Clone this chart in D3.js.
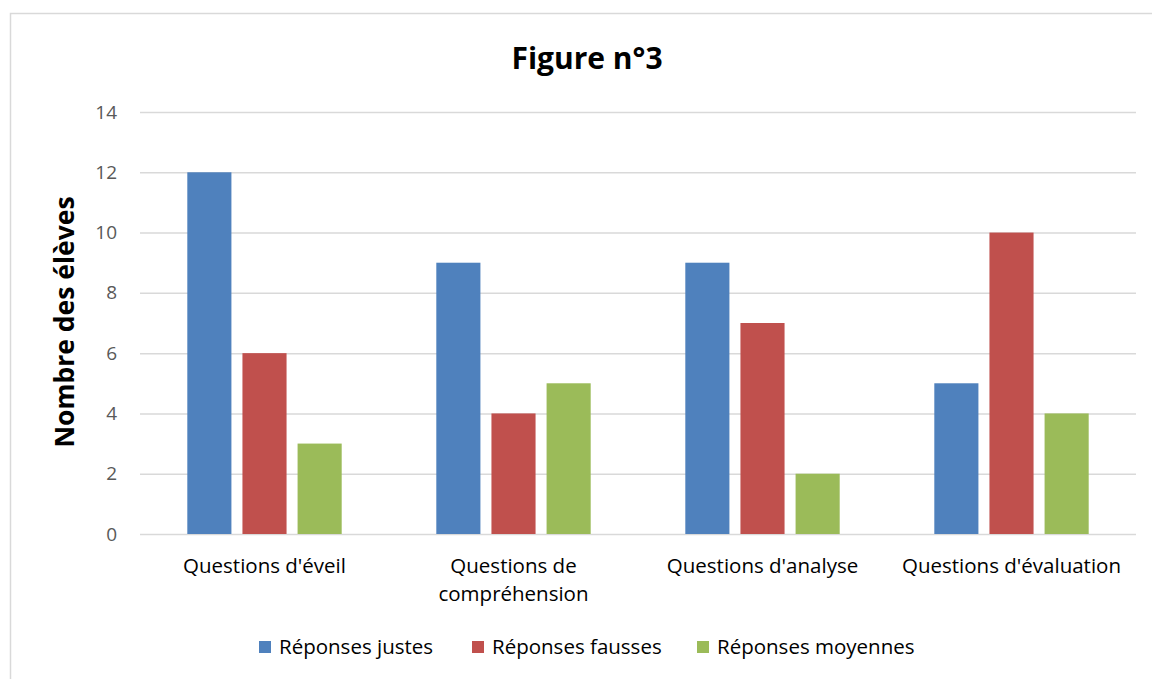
<!DOCTYPE html>
<html>
<head>
<meta charset="utf-8">
<script src="https://cdn.jsdelivr.net/npm/d3@7"></script>
<style>
  body { margin: 0; background: #fff; }
  text { font-family: "Open Sans", sans-serif; }
</style>
</head>
<body>
<svg id="chart" width="1152" height="679"></svg>
<script>
// categories, one label per group (lines split for wrapping)
const categories = ["Questions d'éveil", "Questions de compréhension", "Questions d'analyse", "Questions d'évaluation"];
const categoryLines = [["Questions d'éveil"], ["Questions de", "compréhension"], ["Questions d'analyse"], ["Questions d'évaluation"]];
const seriesNames = ["Réponses justes", "Réponses fausses", "Réponses moyennes"];
const justes = [12, 9, 9, 5];
const fausses = [6, 4, 7, 10];
const moyennes = [3, 5, 2, 4];
const yTicks = [0, 2, 4, 6, 8, 10, 12, 14];
const colors = ["#4f81bd", "#c0504d", "#9bbb59"];

const svg = d3.select("#chart");

let canvas = {"width": 1152, "height": 679,
              "plotLeft": 140, "plotRight": 1136,
              "plotTop": 112, "plotBottom": 534};

// chart frame (cut off on the right and bottom like the screenshot)
svg.append("rect")
  .attr("x", 10.5).attr("y", 13.5)
  .attr("width", 1160).attr("height", 700)
  .attr("fill", "none")
  .attr("stroke", "#d9d9d9")
  .attr("stroke-width", 1.5);

let xScale = d3.scaleBand()
  .domain(categories)
  .range([canvas.plotLeft, canvas.plotRight])
  .paddingInner(0.38)
  .paddingOuter(0.19);

let xSub = d3.scaleBand()
  .domain(seriesNames)
  .range([0, xScale.bandwidth()])
  .paddingInner(0.2);

let yScale = d3.scaleLinear()
  .domain([0, 14])
  .range([canvas.plotBottom, canvas.plotTop]);

// gridlines
let yAxis = d3.axisLeft(yScale).tickValues(yTicks).tickSize(-(canvas.plotRight - canvas.plotLeft)).tickPadding(23);
let gy = svg.append("g")
  .attr("transform", `translate(${canvas.plotLeft}, 0)`)
  .call(yAxis);
gy.select(".domain").remove();
gy.selectAll(".tick line").attr("stroke", "#d9d9d9").attr("stroke-width", 1.5);
gy.selectAll(".tick text").attr("fill", "#595959").attr("font-size", 19);

// table built from the series arrays
let table = categories.map((c, i) => ({
  category: c,
  values: [justes[i], fausses[i], moyennes[i]].map((v, j) => ({series: seriesNames[j], value: v, idx: j}))
}));

let groups = svg.selectAll(".group")
  .data(table)
  .join("g")
  .attr("class", "group")
  .attr("transform", d => `translate(${xScale(d.category)}, 0)`);

groups.selectAll("rect")
  .data(d => d.values)
  .join("rect")
  .attr("x", d => xSub(d.series))
  .attr("width", xSub.bandwidth())
  .attr("y", d => yScale(d.value))
  .attr("height", d => yScale(0) - yScale(d.value))
  .attr("fill", d => colors[d.idx]);

// category labels
let catLabels = svg.selectAll(".catlabel")
  .data(categories)
  .join("text")
  .attr("class", "catlabel")
  .attr("x", d => xScale(d) + xScale.bandwidth() / 2)
  .attr("y", 573)
  .attr("text-anchor", "middle")
  .attr("font-size", 20.5)
  .attr("fill", "#000");

catLabels.each(function(d, i) {
  d3.select(this).selectAll("tspan")
    .data(categoryLines[i])
    .join("tspan")
    .attr("x", xScale(d) + xScale.bandwidth() / 2)
    .attr("dy", (t, k) => k === 0 ? 0 : 28)
    .text(t => t);
});

// title
svg.append("text")
  .attr("x", 587)
  .attr("y", 69)
  .attr("text-anchor", "middle")
  .attr("font-size", 30)
  .attr("font-weight", "bold")
  .text("Figure n°3");

// y axis title
svg.append("text")
  .attr("transform", "translate(74, 322) rotate(-90)")
  .attr("text-anchor", "middle")
  .attr("font-size", 26.5)
  .attr("font-weight", "bold")
  .text("Nombre des élèves");

// legend
let legendX = [259, 472, 697];
svg.selectAll(".legendrect")
  .data(seriesNames)
  .join("rect")
  .attr("class", "legendrect")
  .attr("x", (d, i) => legendX[i])
  .attr("y", 641)
  .attr("width", 12)
  .attr("height", 12)
  .attr("fill", (d, i) => colors[i]);

svg.selectAll(".legendtext")
  .data(seriesNames)
  .join("text")
  .attr("class", "legendtext")
  .attr("x", (d, i) => legendX[i] + 20)
  .attr("y", 654)
  .attr("font-size", 20.5)
  .text(d => d);
</script>
</body>
</html>
